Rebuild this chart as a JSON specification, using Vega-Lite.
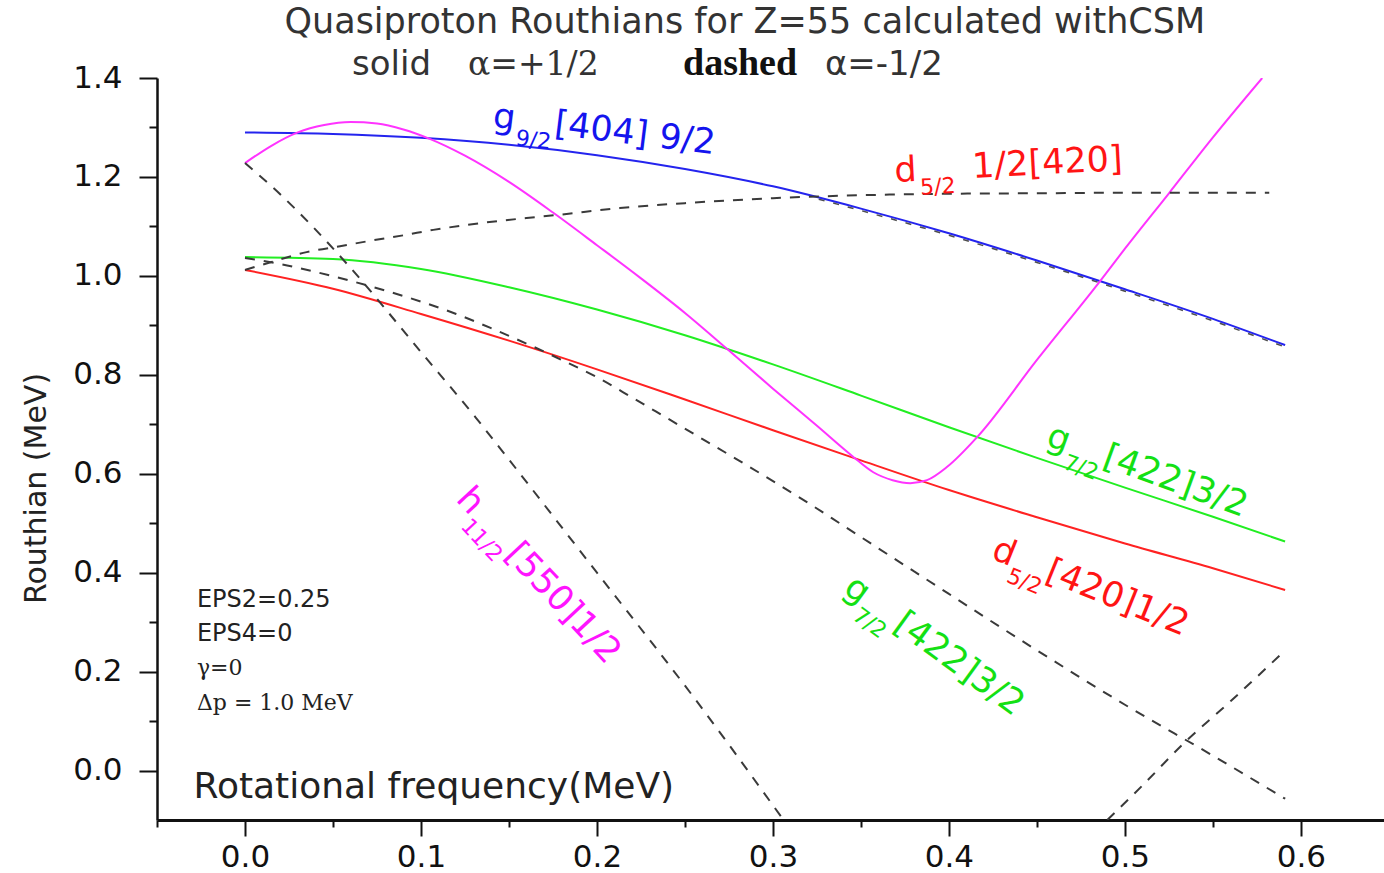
{
"$schema": "https://vega.github.io/schema/vega-lite/v6.json",
"width": 1227, "height": 742,
"autosize": {"type": "none"},
"padding": {"left": 157, "top": 78, "right": 0, "bottom": 53},
"background": "white",
"config": {"view": {"stroke": null}, "axis": {"grid": false}},
"datasets": {
"solid": [
{"c":"g92","x":0,"y":1.29},{"c":"g92","x":0.05,"y":1.287},{"c":"g92","x":0.1,"y":1.279},{"c":"g92","x":0.15,"y":1.265},{"c":"g92","x":0.2,"y":1.244},{"c":"g92","x":0.25,"y":1.216},{"c":"g92","x":0.3,"y":1.181},{"c":"g92","x":0.35,"y":1.136},{"c":"g92","x":0.4,"y":1.086},{"c":"g92","x":0.45,"y":1.031},{"c":"g92","x":0.5,"y":0.973},{"c":"g92","x":0.55,"y":0.913},{"c":"g92","x":0.591,"y":0.86},
{"c":"g72","x":0,"y":1.038},{"c":"g72","x":0.05,"y":1.034},{"c":"g72","x":0.1,"y":1.014},{"c":"g72","x":0.15,"y":0.977},{"c":"g72","x":0.2,"y":0.932},{"c":"g72","x":0.25,"y":0.88},{"c":"g72","x":0.3,"y":0.821},{"c":"g72","x":0.35,"y":0.758},{"c":"g72","x":0.4,"y":0.694},{"c":"g72","x":0.45,"y":0.632},{"c":"g72","x":0.5,"y":0.572},{"c":"g72","x":0.55,"y":0.513},{"c":"g72","x":0.591,"y":0.463},
{"c":"d52","x":0,"y":1.012},{"c":"d52","x":0.05,"y":0.974},{"c":"d52","x":0.1,"y":0.923},{"c":"d52","x":0.15,"y":0.869},{"c":"d52","x":0.2,"y":0.811},{"c":"d52","x":0.25,"y":0.75},{"c":"d52","x":0.3,"y":0.688},{"c":"d52","x":0.35,"y":0.627},{"c":"d52","x":0.4,"y":0.567},{"c":"d52","x":0.45,"y":0.512},{"c":"d52","x":0.5,"y":0.459},{"c":"d52","x":0.55,"y":0.409},{"c":"d52","x":0.591,"y":0.365},
{"c":"h112","x":0,"y":1.228},{"c":"h112","x":0.015,"y":1.263},{"c":"h112","x":0.03,"y":1.29},{"c":"h112","x":0.045,"y":1.305},{"c":"h112","x":0.06,"y":1.311},{"c":"h112","x":0.075,"y":1.308},{"c":"h112","x":0.09,"y":1.296},{"c":"h112","x":0.105,"y":1.277},{"c":"h112","x":0.125,"y":1.243},{"c":"h112","x":0.15,"y":1.19},{"c":"h112","x":0.175,"y":1.128},{"c":"h112","x":0.2,"y":1.062},{"c":"h112","x":0.225,"y":0.995},{"c":"h112","x":0.25,"y":0.925},{"c":"h112","x":0.275,"y":0.849},{"c":"h112","x":0.3,"y":0.772},{"c":"h112","x":0.325,"y":0.697},{"c":"h112","x":0.345,"y":0.636},{"c":"h112","x":0.357,"y":0.603},{"c":"h112","x":0.368,"y":0.587},{"c":"h112","x":0.378,"y":0.581},{"c":"h112","x":0.3875,"y":0.587},{"c":"h112","x":0.399,"y":0.614},{"c":"h112","x":0.416,"y":0.674},{"c":"h112","x":0.45,"y":0.83},{"c":"h112","x":0.486,"y":0.99},{"c":"h112","x":0.5,"y":1.055},{"c":"h112","x":0.525,"y":1.167},{"c":"h112","x":0.55,"y":1.28},{"c":"h112","x":0.578,"y":1.4}
],
"dashed": [
{"c":"h112m","x":0,"y":1.228},{"c":"h112m","x":0.02,"y":1.165},{"c":"h112m","x":0.0386,"y":1.099},{"c":"h112m","x":0.06,"y":1.016},{"c":"h112m","x":0.1,"y":0.846},{"c":"h112m","x":0.131,"y":0.714},{"c":"h112m","x":0.149,"y":0.633},{"c":"h112m","x":0.2,"y":0.4},{"c":"h112m","x":0.255,"y":0.148},{"c":"h112m","x":0.306,"y":-0.1},
{"c":"d52m","x":0,"y":1.012},{"c":"d52m","x":0.015,"y":1.028},{"c":"d52m","x":0.035,"y":1.048},{"c":"d52m","x":0.054,"y":1.06},{"c":"d52m","x":0.073,"y":1.072},{"c":"d52m","x":0.09,"y":1.082},{"c":"d52m","x":0.107,"y":1.093},{"c":"d52m","x":0.126,"y":1.103},{"c":"d52m","x":0.16,"y":1.117},{"c":"d52m","x":0.177,"y":1.123},{"c":"d52m","x":0.213,"y":1.137},{"c":"d52m","x":0.25,"y":1.147},{"c":"d52m","x":0.3,"y":1.157},{"c":"d52m","x":0.35,"y":1.163},{"c":"d52m","x":0.4,"y":1.166},{"c":"d52m","x":0.45,"y":1.167},{"c":"d52m","x":0.5,"y":1.168},{"c":"d52m","x":0.582,"y":1.168},
{"c":"g72m","x":0,"y":1.036},{"c":"g72m","x":0.02,"y":1.024},{"c":"g72m","x":0.04,"y":1.008},{"c":"g72m","x":0.06,"y":0.99},{"c":"g72m","x":0.08,"y":0.97},{"c":"g72m","x":0.1,"y":0.948},{"c":"g72m","x":0.12,"y":0.923},{"c":"g72m","x":0.14,"y":0.894},{"c":"g72m","x":0.16,"y":0.863},{"c":"g72m","x":0.18,"y":0.83},{"c":"g72m","x":0.2,"y":0.795},{"c":"g72m","x":0.22,"y":0.754},{"c":"g72m","x":0.24,"y":0.712},{"c":"g72m","x":0.26,"y":0.67},{"c":"g72m","x":0.28,"y":0.628},{"c":"g72m","x":0.3,"y":0.585},{"c":"g72m","x":0.32,"y":0.541},{"c":"g72m","x":0.34,"y":0.495},{"c":"g72m","x":0.36,"y":0.449},{"c":"g72m","x":0.38,"y":0.403},{"c":"g72m","x":0.4,"y":0.357},{"c":"g72m","x":0.42,"y":0.311},{"c":"g72m","x":0.45,"y":0.243},{"c":"g72m","x":0.5,"y":0.133},{"c":"g72m","x":0.55,"y":0.03},{"c":"g72m","x":0.591,"y":-0.057},
{"c":"h112m2","x":0.49,"y":-0.1},{"c":"h112m2","x":0.51,"y":-0.03},{"c":"h112m2","x":0.534,"y":0.057},{"c":"h112m2","x":0.56,"y":0.14},{"c":"h112m2","x":0.591,"y":0.243}
],
"g92m": [
{"c":"g92m","x":0.326,"y":1.155},{"c":"g92m","x":0.35,"y":1.132},{"c":"g92m","x":0.4,"y":1.082},{"c":"g92m","x":0.45,"y":1.027},{"c":"g92m","x":0.5,"y":0.969},{"c":"g92m","x":0.55,"y":0.909},{"c":"g92m","x":0.591,"y":0.856}
],
"txt": [
{"id":"g92a","t":"g","x":0.1403,"y":1.3009},{"id":"g92b","t":"9/2","x":0.1403,"y":1.3009},{"id":"g92c","t":"[404] 9/2","x":0.1403,"y":1.3009},
{"id":"d52ta","t":"d","x":0.3693,"y":1.1897},{"id":"d52tb","t":"5/2","x":0.3693,"y":1.1897},{"id":"d52tc","t":"1/2[420]","x":0.3693,"y":1.1897},
{"id":"g72ra","t":"g","x":0.4545,"y":0.658},{"id":"g72rb","t":"7/2","x":0.4545,"y":0.658},{"id":"g72rc","t":"[422]3/2","x":0.4545,"y":0.658},
{"id":"d52la","t":"d","x":0.4233,"y":0.4296},{"id":"d52lb","t":"5/2","x":0.4233,"y":0.4296},{"id":"d52lc","t":"[420]1/2","x":0.4233,"y":0.4296},
{"id":"g72la","t":"g","x":0.3392,"y":0.3608},{"id":"g72lb","t":"7/2","x":0.3392,"y":0.3608},{"id":"g72lc","t":"[422]3/2","x":0.3392,"y":0.3608},
{"id":"h112a","t":"h","x":0.1193,"y":0.5468},{"id":"h112b","t":"11/2","x":0.1193,"y":0.5468},{"id":"h112c","t":"[550]1/2","x":0.1193,"y":0.5468},
{"id":"eps","t":"EPS2=0.25","x":-0.0273,"y":0.3305},{"id":"eps","t":"EPS4=0","x":-0.0273,"y":0.2618},
{"id":"par","t":"γ=0","x":-0.0273,"y":0.193},{"id":"par","t":"Δp = 1.0 MeV","x":-0.0273,"y":0.1223},
{"id":"t1","t":"Quasiproton Routhians for Z=55 calculated withCSM","x":0.284,"y":1.49},
{"id":"t2s","t":"solid","x":0.0608,"y":1.406},{"id":"t2s","t":"α=-1/2","x":0.3295,"y":1.406},
{"id":"t2a","t":"α=+1/2","x":0.1267,"y":1.406},
{"id":"t2b","t":"dashed","x":0.2489,"y":1.406}
]
},
"layer": [
{
"data": {"name": "solid"},
"mark": {"type": "line", "strokeWidth": 2, "clip": true, "interpolate": "monotone"},
"encoding": {
"x": {"field": "x", "type": "quantitative", "scale": {"domain": [-0.05, 0.6472], "nice": false, "zero": false},
"axis": {"orient": "bottom", "values": [0, 0.1, 0.2, 0.3, 0.4, 0.5, 0.6], "format": ".1f", "tickSize": 16, "tickWidth": 2, "tickColor": "#111", "domain": true, "domainColor": "#111", "domainWidth": 3, "labelFont": "DejaVu Sans", "labelFontSize": 31, "labelColor": "#111", "labelPadding": 6, "labelFlush": false, "labelOverlap": false, "title": "Rotational frequency(MeV)", "titleFont": "DejaVu Sans", "titleFontSize": 36, "titleFontWeight": "normal", "titleColor": "#222", "titleX": 36, "titleY": -23, "titleAlign": "left", "titleBaseline": "alphabetic", "titleAngle": 0}},
"y": {"field": "y", "type": "quantitative", "scale": {"domain": [-0.1, 1.4], "nice": false, "zero": false},
"axis": {"orient": "left", "values": [0, 0.2, 0.4, 0.6, 0.8, 1.0, 1.2, 1.4], "format": ".1f", "tickSize": 18, "tickWidth": 2, "tickColor": "#111", "domain": true, "domainColor": "#111", "domainWidth": 2.5, "labelFont": "DejaVu Sans", "labelFontSize": 31, "labelColor": "#111", "labelPadding": 17, "labelFlush": false, "labelOverlap": false, "title": "Routhian (MeV)", "titleFont": "DejaVu Sans", "titleFontSize": 30, "titleFontWeight": "normal", "titleColor": "#222", "titleX": -121, "titleY": 410, "titleAngle": -90, "titleAlign": "center", "titleBaseline": "middle"}},
"color": {"field": "c", "type": "nominal", "scale": {"domain": ["g92", "g72", "d52", "h112"], "range": ["#2424ee", "#22ee22", "#ff2222", "#ff33ff"]}, "legend": null}
}
},
{
"data": {"name": "dashed"},
"mark": {"type": "line", "strokeWidth": 2, "strokeDash": [10, 9], "color": "#3a3a3a", "clip": true, "interpolate": "monotone"},
"encoding": {
"x": {"field": "x", "type": "quantitative", "scale": {"domain": [-0.05, 0.6472], "nice": false, "zero": false},
"axis": {"orient": "bottom", "values": [-0.05, 0.05, 0.15, 0.25, 0.35, 0.45, 0.55], "tickSize": 7, "tickWidth": 2, "tickColor": "#111", "domain": false, "labels": false, "title": null}},
"y": {"field": "y", "type": "quantitative", "scale": {"domain": [-0.1, 1.4], "nice": false, "zero": false},
"axis": {"orient": "left", "values": [0.1, 0.3, 0.5, 0.7, 0.9, 1.1, 1.3], "tickSize": 8, "tickWidth": 2, "tickColor": "#111", "domain": false, "labels": false, "title": null}},
"detail": {"field": "c", "type": "nominal"}
}
},
{
"data": {"name": "g92m"},
"mark": {"type": "line", "strokeWidth": 1.5, "strokeDash": [6, 9], "color": "#222", "opacity": 0.8, "clip": true, "interpolate": "monotone"},
"encoding": {
"x": {"field": "x", "type": "quantitative", "scale": {"domain": [-0.05, 0.6472], "nice": false, "zero": false}, "axis": null},
"y": {"field": "y", "type": "quantitative", "scale": {"domain": [-0.1, 1.4], "nice": false, "zero": false}, "axis": null}
}
},
{"data": {"name": "txt"}, "transform": [{"filter": "datum.id === 'g92a'"}], "mark": {"type": "text", "align": "left", "baseline": "alphabetic", "angle": 7, "fontSize": 35, "font": "DejaVu Sans", "color": "#1414ee"}, "encoding": {"x": {"field": "x", "type": "quantitative", "scale": {"domain": [-0.05, 0.6472], "nice": false, "zero": false}, "axis": null}, "y": {"field": "y", "type": "quantitative", "scale": {"domain": [-0.1, 1.4], "nice": false, "zero": false}, "axis": null}, "text": {"field": "t", "type": "nominal"}}},
{"data": {"name": "txt"}, "transform": [{"filter": "datum.id === 'g92b'"}], "mark": {"type": "text", "align": "left", "baseline": "alphabetic", "angle": 7, "dx": 25, "dy": 15, "fontSize": 22, "font": "DejaVu Sans", "color": "#1414ee"}, "encoding": {"x": {"field": "x", "type": "quantitative", "scale": {"domain": [-0.05, 0.6472], "nice": false, "zero": false}, "axis": null}, "y": {"field": "y", "type": "quantitative", "scale": {"domain": [-0.1, 1.4], "nice": false, "zero": false}, "axis": null}, "text": {"field": "t", "type": "nominal"}}},
{"data": {"name": "txt"}, "transform": [{"filter": "datum.id === 'g92c'"}], "mark": {"type": "text", "align": "left", "baseline": "alphabetic", "angle": 7, "dx": 62, "dy": 0, "fontSize": 35, "font": "DejaVu Sans", "color": "#1414ee"}, "encoding": {"x": {"field": "x", "type": "quantitative", "scale": {"domain": [-0.05, 0.6472], "nice": false, "zero": false}, "axis": null}, "y": {"field": "y", "type": "quantitative", "scale": {"domain": [-0.1, 1.4], "nice": false, "zero": false}, "axis": null}, "text": {"field": "t", "type": "nominal"}}},
{"data": {"name": "txt"}, "transform": [{"filter": "datum.id === 'd52ta'"}], "mark": {"type": "text", "align": "left", "baseline": "alphabetic", "angle": -3, "fontSize": 35, "font": "DejaVu Sans", "color": "#ff1414"}, "encoding": {"x": {"field": "x", "type": "quantitative", "scale": {"domain": [-0.05, 0.6472], "nice": false, "zero": false}, "axis": null}, "y": {"field": "y", "type": "quantitative", "scale": {"domain": [-0.1, 1.4], "nice": false, "zero": false}, "axis": null}, "text": {"field": "t", "type": "nominal"}}},
{"data": {"name": "txt"}, "transform": [{"filter": "datum.id === 'd52tb'"}], "mark": {"type": "text", "align": "left", "baseline": "alphabetic", "angle": -3, "dx": 25, "dy": 14, "fontSize": 22, "font": "DejaVu Sans", "color": "#ff1414"}, "encoding": {"x": {"field": "x", "type": "quantitative", "scale": {"domain": [-0.05, 0.6472], "nice": false, "zero": false}, "axis": null}, "y": {"field": "y", "type": "quantitative", "scale": {"domain": [-0.1, 1.4], "nice": false, "zero": false}, "axis": null}, "text": {"field": "t", "type": "nominal"}}},
{"data": {"name": "txt"}, "transform": [{"filter": "datum.id === 'd52tc'"}], "mark": {"type": "text", "align": "left", "baseline": "alphabetic", "angle": -3, "dx": 78, "dy": 0, "fontSize": 35, "font": "DejaVu Sans", "color": "#ff1414"}, "encoding": {"x": {"field": "x", "type": "quantitative", "scale": {"domain": [-0.05, 0.6472], "nice": false, "zero": false}, "axis": null}, "y": {"field": "y", "type": "quantitative", "scale": {"domain": [-0.1, 1.4], "nice": false, "zero": false}, "axis": null}, "text": {"field": "t", "type": "nominal"}}},
{"data": {"name": "txt"}, "transform": [{"filter": "datum.id === 'g72ra'"}], "mark": {"type": "text", "align": "left", "baseline": "alphabetic", "angle": 20, "fontSize": 35, "font": "DejaVu Sans", "color": "#14e014"}, "encoding": {"x": {"field": "x", "type": "quantitative", "scale": {"domain": [-0.05, 0.6472], "nice": false, "zero": false}, "axis": null}, "y": {"field": "y", "type": "quantitative", "scale": {"domain": [-0.1, 1.4], "nice": false, "zero": false}, "axis": null}, "text": {"field": "t", "type": "nominal"}}},
{"data": {"name": "txt"}, "transform": [{"filter": "datum.id === 'g72rb'"}], "mark": {"type": "text", "align": "left", "baseline": "alphabetic", "angle": 20, "dx": 24, "dy": 16, "fontSize": 22, "font": "DejaVu Sans", "color": "#14e014"}, "encoding": {"x": {"field": "x", "type": "quantitative", "scale": {"domain": [-0.05, 0.6472], "nice": false, "zero": false}, "axis": null}, "y": {"field": "y", "type": "quantitative", "scale": {"domain": [-0.1, 1.4], "nice": false, "zero": false}, "axis": null}, "text": {"field": "t", "type": "nominal"}}},
{"data": {"name": "txt"}, "transform": [{"filter": "datum.id === 'g72rc'"}], "mark": {"type": "text", "align": "left", "baseline": "alphabetic", "angle": 20, "dx": 60, "dy": 0, "fontSize": 35, "font": "DejaVu Sans", "color": "#14e014"}, "encoding": {"x": {"field": "x", "type": "quantitative", "scale": {"domain": [-0.05, 0.6472], "nice": false, "zero": false}, "axis": null}, "y": {"field": "y", "type": "quantitative", "scale": {"domain": [-0.1, 1.4], "nice": false, "zero": false}, "axis": null}, "text": {"field": "t", "type": "nominal"}}},
{"data": {"name": "txt"}, "transform": [{"filter": "datum.id === 'd52la'"}], "mark": {"type": "text", "align": "left", "baseline": "alphabetic", "angle": 22, "fontSize": 35, "font": "DejaVu Sans", "color": "#ff1414"}, "encoding": {"x": {"field": "x", "type": "quantitative", "scale": {"domain": [-0.05, 0.6472], "nice": false, "zero": false}, "axis": null}, "y": {"field": "y", "type": "quantitative", "scale": {"domain": [-0.1, 1.4], "nice": false, "zero": false}, "axis": null}, "text": {"field": "t", "type": "nominal"}}},
{"data": {"name": "txt"}, "transform": [{"filter": "datum.id === 'd52lb'"}], "mark": {"type": "text", "align": "left", "baseline": "alphabetic", "angle": 22, "dx": 23, "dy": 16, "fontSize": 22, "font": "DejaVu Sans", "color": "#ff1414"}, "encoding": {"x": {"field": "x", "type": "quantitative", "scale": {"domain": [-0.05, 0.6472], "nice": false, "zero": false}, "axis": null}, "y": {"field": "y", "type": "quantitative", "scale": {"domain": [-0.1, 1.4], "nice": false, "zero": false}, "axis": null}, "text": {"field": "t", "type": "nominal"}}},
{"data": {"name": "txt"}, "transform": [{"filter": "datum.id === 'd52lc'"}], "mark": {"type": "text", "align": "left", "baseline": "alphabetic", "angle": 22, "dx": 58, "dy": 0, "fontSize": 35, "font": "DejaVu Sans", "color": "#ff1414"}, "encoding": {"x": {"field": "x", "type": "quantitative", "scale": {"domain": [-0.05, 0.6472], "nice": false, "zero": false}, "axis": null}, "y": {"field": "y", "type": "quantitative", "scale": {"domain": [-0.1, 1.4], "nice": false, "zero": false}, "axis": null}, "text": {"field": "t", "type": "nominal"}}},
{"data": {"name": "txt"}, "transform": [{"filter": "datum.id === 'g72la'"}], "mark": {"type": "text", "align": "left", "baseline": "alphabetic", "angle": 36, "fontSize": 35, "font": "DejaVu Sans", "color": "#14e014"}, "encoding": {"x": {"field": "x", "type": "quantitative", "scale": {"domain": [-0.05, 0.6472], "nice": false, "zero": false}, "axis": null}, "y": {"field": "y", "type": "quantitative", "scale": {"domain": [-0.1, 1.4], "nice": false, "zero": false}, "axis": null}, "text": {"field": "t", "type": "nominal"}}},
{"data": {"name": "txt"}, "transform": [{"filter": "datum.id === 'g72lb'"}], "mark": {"type": "text", "align": "left", "baseline": "alphabetic", "angle": 36, "dx": 23, "dy": 16, "fontSize": 22, "font": "DejaVu Sans", "color": "#14e014"}, "encoding": {"x": {"field": "x", "type": "quantitative", "scale": {"domain": [-0.05, 0.6472], "nice": false, "zero": false}, "axis": null}, "y": {"field": "y", "type": "quantitative", "scale": {"domain": [-0.1, 1.4], "nice": false, "zero": false}, "axis": null}, "text": {"field": "t", "type": "nominal"}}},
{"data": {"name": "txt"}, "transform": [{"filter": "datum.id === 'g72lc'"}], "mark": {"type": "text", "align": "left", "baseline": "alphabetic", "angle": 36, "dx": 62, "dy": 0, "fontSize": 35, "font": "DejaVu Sans", "color": "#14e014"}, "encoding": {"x": {"field": "x", "type": "quantitative", "scale": {"domain": [-0.05, 0.6472], "nice": false, "zero": false}, "axis": null}, "y": {"field": "y", "type": "quantitative", "scale": {"domain": [-0.1, 1.4], "nice": false, "zero": false}, "axis": null}, "text": {"field": "t", "type": "nominal"}}},
{"data": {"name": "txt"}, "transform": [{"filter": "datum.id === 'h112a'"}], "mark": {"type": "text", "align": "left", "baseline": "alphabetic", "angle": 47, "fontSize": 35, "font": "DejaVu Sans", "color": "#ff14ff"}, "encoding": {"x": {"field": "x", "type": "quantitative", "scale": {"domain": [-0.05, 0.6472], "nice": false, "zero": false}, "axis": null}, "y": {"field": "y", "type": "quantitative", "scale": {"domain": [-0.1, 1.4], "nice": false, "zero": false}, "axis": null}, "text": {"field": "t", "type": "nominal"}}},
{"data": {"name": "txt"}, "transform": [{"filter": "datum.id === 'h112b'"}], "mark": {"type": "text", "align": "left", "baseline": "alphabetic", "angle": 47, "dx": 23, "dy": 15, "fontSize": 22, "font": "DejaVu Sans", "color": "#ff14ff"}, "encoding": {"x": {"field": "x", "type": "quantitative", "scale": {"domain": [-0.05, 0.6472], "nice": false, "zero": false}, "axis": null}, "y": {"field": "y", "type": "quantitative", "scale": {"domain": [-0.1, 1.4], "nice": false, "zero": false}, "axis": null}, "text": {"field": "t", "type": "nominal"}}},
{"data": {"name": "txt"}, "transform": [{"filter": "datum.id === 'h112c'"}], "mark": {"type": "text", "align": "left", "baseline": "alphabetic", "angle": 47, "dx": 74, "dy": 2, "fontSize": 35, "font": "DejaVu Sans", "color": "#ff14ff"}, "encoding": {"x": {"field": "x", "type": "quantitative", "scale": {"domain": [-0.05, 0.6472], "nice": false, "zero": false}, "axis": null}, "y": {"field": "y", "type": "quantitative", "scale": {"domain": [-0.1, 1.4], "nice": false, "zero": false}, "axis": null}, "text": {"field": "t", "type": "nominal"}}},
{"data": {"name": "txt"}, "transform": [{"filter": "datum.id === 'eps'"}], "mark": {"type": "text", "align": "left", "baseline": "alphabetic", "fontSize": 24, "font": "DejaVu Sans", "color": "#222"}, "encoding": {"x": {"field": "x", "type": "quantitative", "scale": {"domain": [-0.05, 0.6472], "nice": false, "zero": false}, "axis": null}, "y": {"field": "y", "type": "quantitative", "scale": {"domain": [-0.1, 1.4], "nice": false, "zero": false}, "axis": null}, "text": {"field": "t", "type": "nominal"}}},
{"data": {"name": "txt"}, "transform": [{"filter": "datum.id === 'par'"}], "mark": {"type": "text", "align": "left", "baseline": "alphabetic", "fontSize": 22, "font": "DejaVu Serif", "color": "#222"}, "encoding": {"x": {"field": "x", "type": "quantitative", "scale": {"domain": [-0.05, 0.6472], "nice": false, "zero": false}, "axis": null}, "y": {"field": "y", "type": "quantitative", "scale": {"domain": [-0.1, 1.4], "nice": false, "zero": false}, "axis": null}, "text": {"field": "t", "type": "nominal"}}},
{"data": {"name": "txt"}, "transform": [{"filter": "datum.id === 't1'"}], "mark": {"type": "text", "align": "center", "baseline": "alphabetic", "fontSize": 35, "font": "DejaVu Sans", "color": "#333"}, "encoding": {"x": {"field": "x", "type": "quantitative", "scale": {"domain": [-0.05, 0.6472], "nice": false, "zero": false}, "axis": null}, "y": {"field": "y", "type": "quantitative", "scale": {"domain": [-0.1, 1.4], "nice": false, "zero": false}, "axis": null}, "text": {"field": "t", "type": "nominal"}}},
{"data": {"name": "txt"}, "transform": [{"filter": "datum.id === 't2s'"}], "mark": {"type": "text", "align": "left", "baseline": "alphabetic", "fontSize": 34, "font": "DejaVu Sans", "color": "#333"}, "encoding": {"x": {"field": "x", "type": "quantitative", "scale": {"domain": [-0.05, 0.6472], "nice": false, "zero": false}, "axis": null}, "y": {"field": "y", "type": "quantitative", "scale": {"domain": [-0.1, 1.4], "nice": false, "zero": false}, "axis": null}, "text": {"field": "t", "type": "nominal"}}},
{"data": {"name": "txt"}, "transform": [{"filter": "datum.id === 't2a'"}], "mark": {"type": "text", "align": "left", "baseline": "alphabetic", "fontSize": 33, "font": "DejaVu Serif", "color": "#333"}, "encoding": {"x": {"field": "x", "type": "quantitative", "scale": {"domain": [-0.05, 0.6472], "nice": false, "zero": false}, "axis": null}, "y": {"field": "y", "type": "quantitative", "scale": {"domain": [-0.1, 1.4], "nice": false, "zero": false}, "axis": null}, "text": {"field": "t", "type": "nominal"}}},
{"data": {"name": "txt"}, "transform": [{"filter": "datum.id === 't2b'"}], "mark": {"type": "text", "align": "left", "baseline": "alphabetic", "fontSize": 38, "font": "Liberation Serif", "fontWeight": "bold", "color": "#111"}, "encoding": {"x": {"field": "x", "type": "quantitative", "scale": {"domain": [-0.05, 0.6472], "nice": false, "zero": false}, "axis": null}, "y": {"field": "y", "type": "quantitative", "scale": {"domain": [-0.1, 1.4], "nice": false, "zero": false}, "axis": null}, "text": {"field": "t", "type": "nominal"}}}
],
"resolve": {"axis": {"x": "independent", "y": "independent"}}
}
